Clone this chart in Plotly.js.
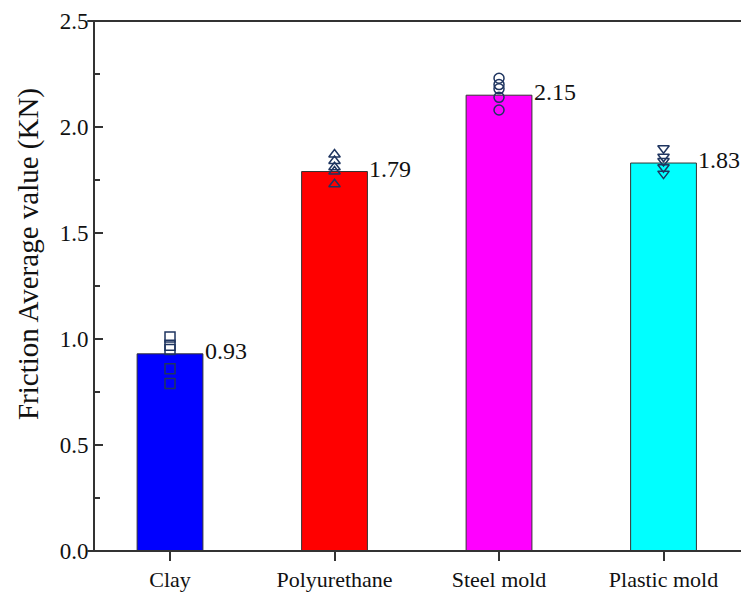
<!DOCTYPE html>
<html>
<head>
<meta charset="utf-8">
<script src="https://cdn.plot.ly/plotly-3.0.1.min.js"></script>
<style>
  html, body { margin: 0; padding: 0; background: #fff; }
  #chart { width: 741px; height: 592px; }
</style>
</head>
<body>
<div id="chart"></div>
<script>
// Mould materials and the mean friction measured against each one
const categories = ['Clay', 'Polyurethane', 'Steel mold', 'Plastic mold'];
const averages = [0.93, 1.79, 2.15, 1.83];
const barColors = ['#0000ff', '#ff0000', '#ff00ff', '#00ffff'];
const yTitle = 'Friction Average value (KN)';

// Individual test readings (KN) for each material
const clayRuns = [1.01, 0.97, 0.95, 0.86, 0.79];
const polyurethaneRuns = [1.87, 1.84, 1.81, 1.79, 1.73];
const steelRuns = [2.23, 2.20, 2.18, 2.14, 2.08];
const plasticRuns = [1.90, 1.86, 1.84, 1.81, 1.78];

const runSets = [clayRuns, polyurethaneRuns, steelRuns, plasticRuns];
const runSymbols = ['square-open', 'triangle-up-open', 'circle-open', 'triangle-down-open'];

const FONT = '"Liberation Serif", "Times New Roman", serif';
const INK = '#333333';
const POINT_INK = '#1f3560';

const traces = [{
  type: 'bar',
  x: categories.map((_, i) => i),
  y: averages,
  width: 0.4,
  marker: { color: barColors, line: { color: INK, width: 1 } },
  hoverinfo: 'skip'
}];

runSets.forEach((runs, i) => {
  traces.push({
    type: 'scatter',
    mode: 'markers',
    x: runs.map(() => i),
    y: runs,
    marker: { symbol: runSymbols[i], size: 10, color: POINT_INK, line: { color: POINT_INK, width: 1.5 } },
    hoverinfo: 'skip'
  });
});

// Value labels sit just to the right of each bar's top edge
const annotations = averages.map((v, i) => ({
  x: i + 0.2, y: v, xref: 'x', yref: 'y',
  text: v.toFixed(2), showarrow: false,
  xanchor: 'left', yanchor: 'middle', xshift: 0, yshift: 3,
  font: { family: FONT, size: 24, color: '#111' }
}));

// Vertical axis title, set a little above the plot's mid-height
annotations.push({
  x: -0.104, y: 0.56, xref: 'paper', yref: 'paper',
  text: yTitle, showarrow: false, textangle: -90,
  xanchor: 'center', yanchor: 'middle',
  font: { family: FONT, size: 29, color: '#111' }
});

// Axis frame lines overhang the left spine a little
const shapes = [
  { type: 'line', xref: 'paper', yref: 'paper', x0: -0.012, x1: 1, y0: 0, y1: 0, line: { color: INK, width: 2 } },
  { type: 'line', xref: 'paper', yref: 'paper', x0: -0.012, x1: 1, y0: 1, y1: 1, line: { color: INK, width: 2 } }
];

const layout = {
  width: 741, height: 592,
  margin: { l: 95, r: 0, t: 21, b: 41, pad: 0 },
  paper_bgcolor: '#fff', plot_bgcolor: '#fff',
  showlegend: false,
  font: { family: FONT, color: '#111' },
  xaxis: {
    range: [-0.456, 3.471],
    tickmode: 'array',
    tickvals: categories.map((_, i) => i),
    ticktext: categories,
    ticks: 'outside', ticklen: 9, tickwidth: 2, tickcolor: INK,
    showline: false, showgrid: false, zeroline: false,
    tickfont: { family: FONT, size: 22, color: '#111' }
  },
  yaxis: {
    range: [0, 2.5],
    tickvals: [0, 0.5, 1.0, 1.5, 2.0, 2.5],
    ticktext: ['0.0', '0.5', '1.0', '1.5', '2.0', '2.5'],
    ticks: 'inside', ticklen: 8, tickwidth: 2, tickcolor: INK,
    minor: { dtick: 0.25, ticks: 'inside', ticklen: 5, tickwidth: 1.5, tickcolor: INK },
    showline: true, linecolor: INK, linewidth: 2,
    showgrid: false, zeroline: false,
    tickfont: { family: FONT, size: 23, color: '#111' }
  },
  annotations: annotations,
  shapes: shapes
};

Plotly.newPlot('chart', traces, layout, { displayModeBar: false, staticPlot: true });
</script>
</body>
</html>
